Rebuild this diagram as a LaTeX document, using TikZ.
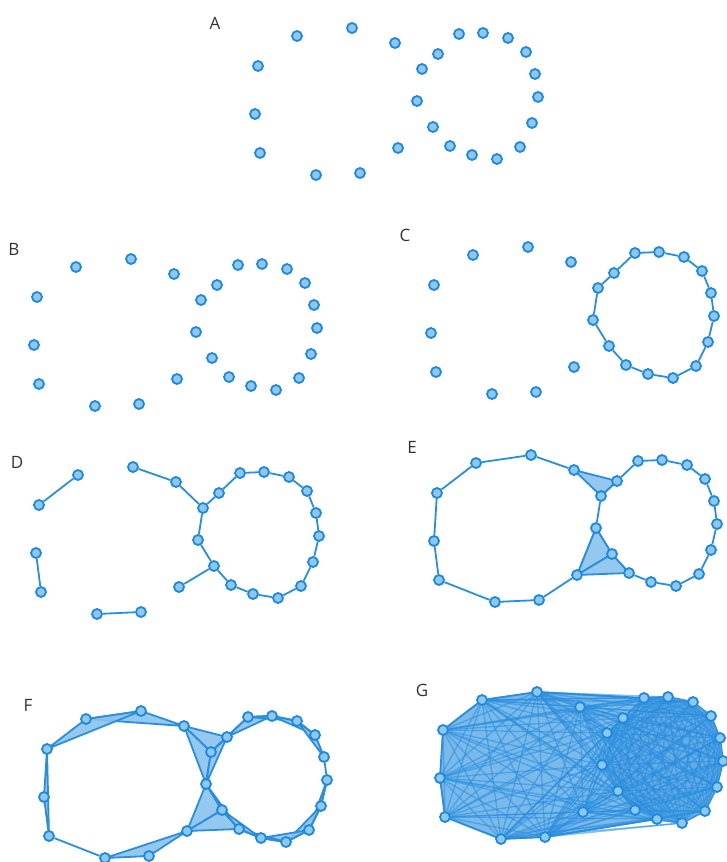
\documentclass[tikz,border=0pt]{standalone}
\usepackage{fontspec}
\setsansfont{Open Sans}
\usetikzlibrary{backgrounds}

\definecolor{ringblue}{RGB}{30,136,222}
\definecolor{dotfill}{RGB}{140,200,240}
\definecolor{edgeblue}{RGB}{42,142,222}
\definecolor{facefill}{RGB}{138,194,236}
\definecolor{meshfill}{RGB}{122,186,234}
\definecolor{densefill}{RGB}{100,172,230}

\tikzset{
  pt/.style={circle, draw=ringblue, fill=dotfill, line width=1.8pt, minimum size=10pt, inner sep=0pt},
  link/.style={draw=edgeblue, line width=1.8pt, line join=round},
  face/.style={fill=facefill, fill opacity=0.9},
  thinlink/.style={draw=edgeblue, line width=1.4pt, draw opacity=0.55},
  panellabel/.style={font=\sffamily\fontsize{17}{17}\selectfont, text=black!80},
}

% sample points (panel A positions, in pixels)
\newcommand{\cloudpoints}{l1/297/36, l2/352/28, l3/395/43, l4/258/66, l5/255/114,
  l6/260/153, l7/316/175, l8/360/173, l9/398/148,
  c1/459/34, c2/483/33, c3/508/38, c4/526/52, c5/535/74, c6/538/97, c7/532/123,
  c8/520/147, c9/497/159, c10/472/155, c11/450/146, c12/433/127, c13/417/101,
  c14/422/69, c15/438/54}

\newcommand{\placecloud}[3]{%
  \foreach \n/\x/\y in \cloudpoints
    \node[pt] (#1-\n) at (\x+#2,\y+#3) {};
}
\newcommand{\ringlinks}[1]{%
  \foreach \i [evaluate=\i as \j using {int(mod(\i,15)+1)}] in {1,...,15}
    \draw[link] (#1-c\i) -- (#1-c\j);
}

\begin{document}
\begin{tikzpicture}[x=1pt,y=-1pt]
  \useasboundingbox (0,0) rectangle (727,862);

  % panel letters
  \node[panellabel] (labA) at (215,23) {A};
  \node[panellabel] (labB) at (14,249) {B};
  \node[panellabel] (labC) at (405,235) {C};
  \node[panellabel] (labD) at (17,462) {D};
  \node[panellabel] (labE) at (412,447) {E};
  \node[panellabel] (labF) at (28,705) {F};
  \node[panellabel] (labG) at (422,690) {G};

  % the same cloud seven times
  \placecloud{A}{0}{0}
  \placecloud{B}{-221}{231}
  \placecloud{C}{176}{219}
  \placecloud{D}{-219}{439}
  \placecloud{E}{179}{427}
  \placecloud{F}{-211}{683}
  \placecloud{G}{185}{664}

  \begin{scope}[on background layer]
    % C: only the small ring
    \ringlinks{C}

    % D
    \ringlinks{D}
    \foreach \a/\b in {l1/l4, l5/l6, l7/l8, l2/l3, l3/c14, l9/c12}
      \draw[link] (D-\a) -- (D-\b);

    % E
    \ringlinks{E}
    \foreach \a/\b in {l3/l2, l2/l1, l1/l4, l4/l5, l5/l6, l6/l7, l7/l8, l8/l9, l9/c13}
      \draw[link] (E-\a) -- (E-\b);
    \foreach \ta/\tb/\tc in {l3/c15/c14, c13/l9/c12, l9/c12/c11}
      \filldraw[face, link] (E-\ta.center) -- (E-\tb.center) -- (E-\tc.center) -- cycle;

    % F
    \ringlinks{F}
    \draw[link] (F-l6) -- (F-l7);
    \foreach \ta/\tb/\tc in {l3/l2/l1, l2/l1/l4, l4/l5/l6, l7/l8/l9,
        l3/c15/c14, l3/c14/c13, c15/c14/c13, l9/c13/c12, l9/c12/c11, c13/c12/c11,
        c14/c15/c1, c15/c1/c2, c1/c2/c3, c2/c3/c4, c3/c4/c5,
        c6/c7/c8, c7/c8/c9, c8/c9/c10, c9/c10/c11, c10/c11/c12}
      \filldraw[face, link] (F-\ta.center) -- (F-\tb.center) -- (F-\tc.center) -- cycle;

    % G: every pair closer than 230px joined
    \filldraw[fill=meshfill, link] (G-l4.center) -- (G-l1.center) -- (G-l2.center) -- (G-c1.center)
      -- (G-c2.center) -- (G-c3.center) -- (G-c4.center) -- (G-c5.center) -- (G-c6.center)
      -- (G-c7.center) -- (G-c8.center) -- (G-c9.center) -- (G-c10.center) -- (G-l8.center)
      -- (G-l7.center) -- (G-l6.center) -- (G-l5.center) -- cycle;
    \fill[densefill] (G-c1.center)
      \foreach \k in {2,...,15} { -- (G-c\k.center) } -- cycle;
    \foreach \a/\ax/\ay [count=\i] in \cloudpoints {
      \foreach \b/\bx/\by [count=\j] in \cloudpoints {
        \pgfmathtruncatemacro{\near}{veclen(\ax-\bx,\ay-\by)<230}
        \ifnum\j>\i \ifnum\near=1 \draw[thinlink] (G-\a) -- (G-\b); \fi\fi
      }
    }
  \end{scope}
\end{tikzpicture}
\end{document}
